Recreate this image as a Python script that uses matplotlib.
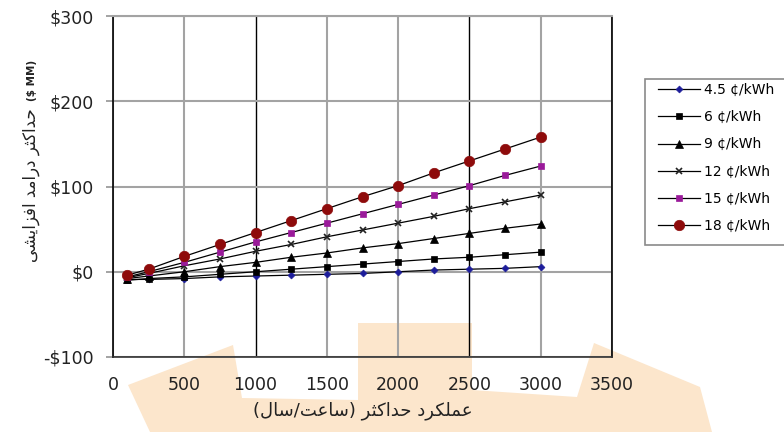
import matplotlib
matplotlib.use("Agg")
import matplotlib.pyplot as plt
from matplotlib.lines import Line2D
from matplotlib.patches import Polygon, Rectangle

# ---------------------------------------------------------------------------
# Data
# ---------------------------------------------------------------------------
HOURS = [100, 250, 500, 750, 1000, 1250, 1500, 1750, 2000, 2250, 2500, 2750, 3000]

P45 = [-9, -9, -8, -6, -5, -4, -3, -2, 0, 2, 3, 4, 6]
P6 = [-10, -8, -6, -3, 0, 3, 6, 9, 12, 15, 17, 20, 23]
P9 = [-8, -5, 0, 6, 11, 17, 22, 28, 33, 39, 45, 51, 56]
P12 = [-7, -2, 7, 15, 24, 32, 41, 49, 57, 65, 74, 82, 90]
P15 = [-6, 0, 11, 23, 35, 46, 57, 68, 79, 90, 101, 113, 124]
P18 = [-4, 3, 18, 32, 46, 60, 74, 88, 101, 116, 130, 144, 158]

SERIES_LABELS = ["4.5 ¢/kWh", "6 ¢/kWh", "9 ¢/kWh", "12 ¢/kWh", "15 ¢/kWh", "18 ¢/kWh"]

XTICKS = [0, 500, 1000, 1500, 2000, 2500, 3000, 3500]
YTICKS = [-100, 0, 100, 200, 300]
YTICK_LABELS = ["-$100", "$0", "$100", "$200", "$300"]

XLABEL_FA = "عملکرد حداکثر (ساعت/سال)"
YLABEL_FA = "حداکثر درامد افزایشی"
YLABEL_UNIT = "($ MM)"

# marker, color, size
STYLES = [
    ("D", "#1c1c9a", 3.5),
    ("s", "#000000", 4.5),
    ("^", "#000000", 6),
    ("x", "#222222", 5),
    ("s", "#9a1a9a", 4.5),
    ("o", "#8e0b0b", 7.5),
]

# ---------------------------------------------------------------------------
# Minimal Persian shaping: presentation forms, put in visual (LTR) order
# because matplotlib does no bidi reordering itself
# ---------------------------------------------------------------------------
FORMS = {
    "ا": ("\uFE8D", "\uFE8E", None, None),
    "د": ("\uFEA9", "\uFEAA", None, None),
    "ر": ("\uFEAD", "\uFEAE", None, None),
    "ز": ("\uFEAF", "\uFEB0", None, None),
    "ح": ("\uFEA1", "\uFEA2", "\uFEA3", "\uFEA4"),
    "ث": ("\uFE99", "\uFE9A", "\uFE9B", "\uFE9C"),
    "ت": ("\uFE95", "\uFE96", "\uFE97", "\uFE98"),
    "م": ("\uFEE1", "\uFEE2", "\uFEE3", "\uFEE4"),
    "ف": ("\uFED1", "\uFED2", "\uFED3", "\uFED4"),
    "ش": ("\uFEB5", "\uFEB6", "\uFEB7", "\uFEB8"),
    "س": ("\uFEB1", "\uFEB2", "\uFEB3", "\uFEB4"),
    "ل": ("\uFEDD", "\uFEDE", "\uFEDF", "\uFEE0"),
    "ع": ("\uFEC9", "\uFECA", "\uFECB", "\uFECC"),
    "ک": ("\uFB8E", "\uFB8F", "\uFB90", "\uFB91"),
    "ی": ("\uFBFC", "\uFBFD", "\uFBFE", "\uFBFF"),
}
MIRROR = {"(": ")", ")": "("}


def rtl(text):
    out = []
    for i, ch in enumerate(text):
        f = FORMS.get(ch)
        if f is None:
            out.append(MIRROR.get(ch, ch))
            continue
        prev = text[i - 1] if i > 0 else ""
        nxt = text[i + 1] if i < len(text) - 1 else ""
        join_prev = prev in FORMS and FORMS[prev][2] is not None
        join_next = f[2] is not None and nxt in FORMS
        if join_prev and join_next:
            out.append(f[3])
        elif join_prev:
            out.append(f[1])
        elif join_next:
            out.append(f[2])
        else:
            out.append(f[0])
    return "".join(reversed(out))


# ---------------------------------------------------------------------------
# Plot
# ---------------------------------------------------------------------------
plt.rcParams["font.family"] = ["DejaVu Sans"]
W, H = 784, 432
fig = plt.figure(figsize=(W / 100, H / 100), dpi=100)
fig.patch.set_facecolor("white")

# faint orange watermark behind everything
wm = [(150, 432), (128, 385), (233, 345), (242, 398), (358, 400), (358, 323),
      (472, 323), (472, 390), (577, 397), (594, 343), (700, 387), (712, 432)]
fig.patches.append(Polygon([(x / W, 1 - y / H) for x, y in wm], closed=True,
                           transform=fig.transFigure, facecolor="#fce6cc",
                           edgecolor="none", zorder=-5))

ax = fig.add_axes([113 / W, 1 - 357 / H, (612 - 113) / W, (357 - 16) / H])
ax.set_facecolor("none")

series = [P45, P6, P9, P12, P15, P18]
handles = []
for vals, (mk, col, ms), lab in zip(series, STYLES, SERIES_LABELS):
    kw = dict(color="black", lw=0.9, marker=mk, ms=ms, markerfacecolor=col,
              markeredgecolor=col, mew=1.2 if mk == "x" else 0.5)
    ax.plot(HOURS, vals, zorder=4, **kw)
    handles.append(Line2D([], [], label=lab, **kw))

ax.set_xlim(0, 3500)
ax.set_ylim(-100, 300)
ax.set_xticks(XTICKS)
ax.set_yticks(YTICKS)
ax.set_yticklabels(YTICK_LABELS)

ax.grid(True, color="#a3a3a3", lw=1.5, zorder=1)
for gl, t in zip(ax.get_xgridlines(), XTICKS):
    if t in (1000, 2500):
        gl.set_color("black")
        gl.set_linewidth(1.0)
ax.set_axisbelow(True)

ax.tick_params(axis="y", direction="out", length=5, width=1.4, color="#a3a3a3",
               pad=9, labelsize=12.5, labelcolor="#222222")
ax.tick_params(axis="x", length=0, pad=14, labelsize=12.5, labelcolor="#222222")

ax.spines["left"].set_color("black")
ax.spines["left"].set_linewidth(1.2)
ax.spines["right"].set_color("black")
ax.spines["right"].set_linewidth(1.2)
ax.spines["top"].set_color("#a3a3a3")
ax.spines["top"].set_linewidth(1.5)
ax.spines["bottom"].set_color("#333333")
ax.spines["bottom"].set_linewidth(1.2)

fig.text(363 / W, 1 - 411 / H, rtl(XLABEL_FA), ha="center", va="center",
         fontsize=13, color="#222222")
fig.text(31 / W, 1 - 185 / H, rtl(YLABEL_FA), ha="center",
         va="center", rotation=90, fontsize=12, color="#222222")
fig.text(32 / W, 1 - 80 / H, YLABEL_UNIT, ha="center", va="center",
         rotation=90, fontsize=7.5, fontweight="bold", color="#222222")

# legend box, running off the right edge as in the reference
fig.patches.append(Rectangle((645 / W, 1 - 245 / H), 150 / W, 166 / H,
                             transform=fig.transFigure, facecolor="white",
                             edgecolor="#8a8a8a", lw=1.2, zorder=1))
fig.legend(handles=handles, loc="upper left", bbox_to_anchor=(658 / W, 1 - 83 / H),
           frameon=False, fontsize=10, handlelength=3.0, handletextpad=0.3,
           labelspacing=0.95, borderpad=0, borderaxespad=0)

fig.savefig("out.png", dpi=100, facecolor="white")
